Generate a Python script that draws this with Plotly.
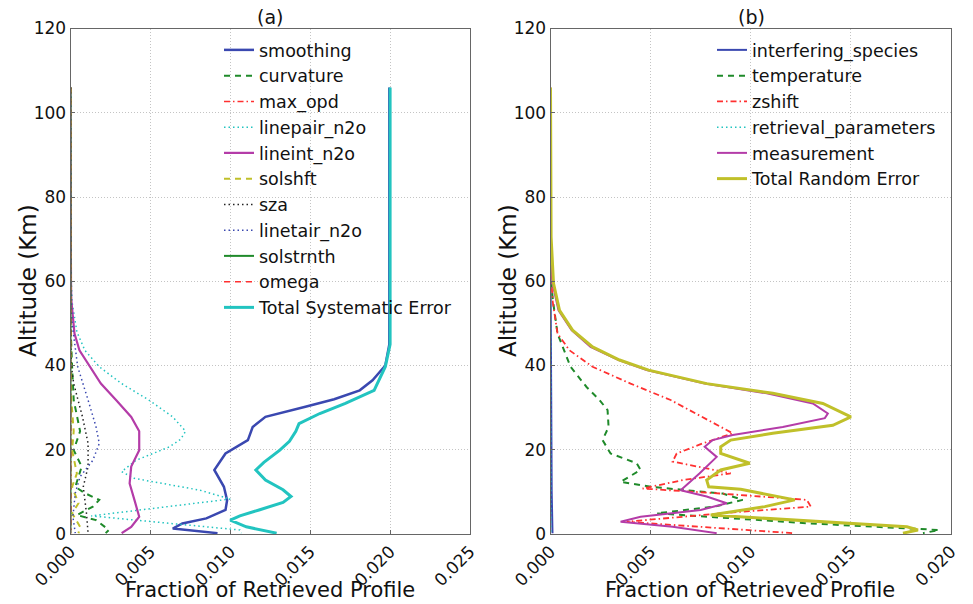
import plotly.graph_objects as go

# ---------------- Panel (a): systematic errors ----------------
smoothing_alt = [106, 60, 45, 40, 36.5, 34.1, 32, 30.2, 27.8, 25.4, 22.3, 19.1, 15.2, 11.2, 8, 5.7, 3.7, 2.5, 1.3, 0.2]
smoothing_val = [0.01995, 0.01995, 0.01995, 0.0197, 0.0189, 0.0181, 0.0165, 0.0147, 0.0122, 0.0114, 0.0111, 0.0097, 0.0090, 0.0096, 0.0098, 0.0097, 0.0085, 0.0070, 0.0064, 0.0092]

curvature_alt = [106, 50, 39.7, 31.8, 24.4, 19.9, 16, 11.2, 9.7, 8.1, 6.5, 4.5, 3.3, 0.95, 0.2]
curvature_val = [0, 0, 0.0001, 0.0002, 0.0006, 0.0002, 0.0007, 0.0003, 0.0009, 0.0018, 0.0014, 0.0004, 0.0016, 0.0024, 0.0022]

max_opd_alt = [106, 30, 10, 0.2]
max_opd_val = [0, 0.00003, 0.00005, 0.00003]

linepair_alt = [106, 65, 55, 48, 43.6, 39.7, 35.7, 31.8, 27.8, 24.4, 22.5, 20.7, 17.5, 14.8, 13.2, 10.4, 8.3, 4.3, 0.95, 0.2]
linepair_val = [0, 0, 0.0001, 0.0004, 0.0009, 0.0018, 0.0032, 0.0049, 0.0064, 0.0072, 0.0069, 0.0062, 0.0041, 0.0032, 0.0040, 0.0081, 0.0100, 0.0013, 0.0106, 0.0107]

lineint_alt = [106, 70, 60, 55.5, 47.6, 43.6, 39.7, 35.7, 31.8, 27.8, 24.4, 19.9, 16, 12, 8.1, 4.1, 1.7, 0.2]
lineint_val = [0, 0, 0.00003, 0.00005, 0.00025, 0.00056, 0.0012, 0.0019, 0.00285, 0.0038, 0.0043, 0.0043, 0.0038, 0.0037, 0.0040, 0.0043, 0.0038, 0.0032]

solshft_alt = [106, 50, 31.8, 24.4, 19.9, 14.4, 11.2, 7.3, 4.9, 1.7, 0.2]
solshft_val = [0, 0, 0.00005, 0.0002, 0.0001, 0.0004, 0.0001, 0.0005, 0.0001, 0.0006, 0.0005]

sza_alt = [106, 50, 40, 35.7, 27.8, 21.5, 16, 11.2, 4.9, 0.2]
sza_val = [0, 0, 0.00005, 0.0002, 0.00075, 0.0011, 0.0011, 0.0008, 0.0010, 0.0011]

linetair_alt = [106, 60, 50, 39.7, 31.8, 25.4, 21.5, 17.5, 13.6, 9.7, 4.1, 0.2]
linetair_val = [0, 0, 0.0001, 0.00045, 0.0011, 0.0016, 0.0018, 0.0014, 0.0006, 0.0003, 0.00015, 0.0003]

solstrnth_alt = [106, 0.2]
solstrnth_val = [0, 0]

omega_alt = [106, 0.2]
omega_val = [0, 0]

total_sys_alt = [106, 45, 39.7, 34.1, 31, 28.6, 26.2, 24.4, 22, 19.9, 17, 15.2, 12.8, 10.5, 8.9, 7.5, 5.7, 4.3, 3.3, 1.7, 0.2]
total_sys_val = [0.0200, 0.0200, 0.0197, 0.0190, 0.0172, 0.0156, 0.0143, 0.0141, 0.0137, 0.0131, 0.0121, 0.0116, 0.0122, 0.0133, 0.0138, 0.0133, 0.0118, 0.0106, 0.0100, 0.0110, 0.0129]

# ---------------- Panel (b): random errors ----------------
interf_alt = [64, 30, 10, 0.2]
interf_val = [0, 0.00003, 0.00006, 0.0001]

temp_alt = [65, 60, 55.5, 47.6, 39.7, 34.9, 31.8, 29.4, 25.4, 22.3, 19.1, 16.8, 15.2, 12.4, 11.2, 9.6, 8.1, 6.5, 4.9, 2.5, 0.95, 0.2]
temp_val = [0, 0.00003, 0.00012, 0.00035, 0.001, 0.0018, 0.00245, 0.00285, 0.0029, 0.0026, 0.0030, 0.0043, 0.0045, 0.0035, 0.0050, 0.0086, 0.0096, 0.0082, 0.0053, 0.0130, 0.0194, 0.0186]

zshift_alt = [65, 55.5, 47.6, 43.6, 39.7, 35.7, 31.8, 27.8, 23.9, 21.5, 19.1, 17.2, 16, 14.4, 12.8, 10.8, 9.6, 8.1, 6.5, 4.9, 2.9, 1.7, 0.2]
zshift_val = [0, 0.0001, 0.00035, 0.00095, 0.0021, 0.0040, 0.0060, 0.0076, 0.0091, 0.0076, 0.0063, 0.0061, 0.0073, 0.0090, 0.0066, 0.0046, 0.0085, 0.0128, 0.0130, 0.0085, 0.0038, 0.0074, 0.0121]

retr_alt = [65, 0.2]
retr_val = [0, 0.00002]

meas_alt = [106, 70, 59.5, 53.1, 48.4, 44.4, 41.3, 38.9, 35.7, 33.4, 31, 28.6, 27.5, 25.4, 23.5, 22.3, 20.7, 18.3, 14.4, 10.4, 8.9, 7.3, 5.7, 4.1, 2.9, 1.7, 0.2]
meas_val = [0, 0.00002, 0.0001, 0.0004, 0.00105, 0.0020, 0.0034, 0.0048, 0.0077, 0.0108, 0.0131, 0.01385, 0.0137, 0.0116, 0.0091, 0.0081, 0.0077, 0.0083, 0.00745, 0.0065, 0.0078, 0.0088, 0.0075, 0.0045, 0.0035, 0.0061, 0.0083]

total_rand_alt = [106, 70.5, 59.5, 53.1, 48.4, 44.4, 41.3, 38.9, 35.7, 33.4, 31, 27.8, 25.8, 23.9, 22.3, 20.7, 19.1, 16.8, 15.2, 12.8, 11.2, 10.6, 8.1, 6.5, 4.5, 3.3, 1.7, 0.95, 0.2]
total_rand_val = [0, 0.00003, 0.00015, 0.00045, 0.0011, 0.0021, 0.00345, 0.0049, 0.0078, 0.0111, 0.0136, 0.0150, 0.0141, 0.0111, 0.0090, 0.0085, 0.0085, 0.00995, 0.0085, 0.0078, 0.0079, 0.0095, 0.0122, 0.0107, 0.0080, 0.0124, 0.0178, 0.01835, 0.0176]

y_ticks = [0, 20, 40, 60, 80, 100, 120]
xa_ticks = [0.000, 0.005, 0.010, 0.015, 0.020, 0.025]
xb_ticks = [0.000, 0.005, 0.010, 0.015, 0.020]

BLUE = "#3a48b0"
GREEN = "#1f8a2a"
RED = "#ff3030"
CYAN = "#22c4c0"
MAG = "#b43ca8"
YEL = "#c0c02a"
BLACK = "#222222"

DASH = "6px,5px"
DOT = "1.5px,3px"
DASHDOT = "6px,3px,1.5px,3px"

fig = go.Figure()

def add(x, y, name, color, width, dash, xa, ya, legend):
    fig.add_trace(go.Scatter(
        x=x, y=y, name=name, mode="lines",
        line=dict(color=color, width=width, dash=dash),
        xaxis=xa, yaxis=ya, legend=legend))

sys_series = [
    (smoothing_val, smoothing_alt, "smoothing", BLUE, 2.5, "solid"),
    (curvature_val, curvature_alt, "curvature", GREEN, 2, DASH),
    (max_opd_val, max_opd_alt, "max_opd", RED, 1.5, DASHDOT),
    (linepair_val, linepair_alt, "linepair_n2o", CYAN, 1.5, DOT),
    (lineint_val, lineint_alt, "lineint_n2o", MAG, 2.2, "solid"),
    (solshft_val, solshft_alt, "solshft", YEL, 2, DASH),
    (sza_val, sza_alt, "sza", BLACK, 1.5, DOT),
    (linetair_val, linetair_alt, "linetair_n2o", BLUE, 1.5, DOT),
    (solstrnth_val, solstrnth_alt, "solstrnth", GREEN, 2, "solid"),
    (omega_val, omega_alt, "omega", RED, 1.5, DASH),
    (total_sys_val, total_sys_alt, "Total Systematic Error", CYAN, 3, "solid"),
]
for x, y, n, c, w, d in sys_series:
    add(x, y, n, c, w, d, "x", "y", "legend")

rand_series = [
    (interf_val, interf_alt, "interfering_species", BLUE, 2, "solid"),
    (temp_val, temp_alt, "temperature", GREEN, 2, DASH),
    (zshift_val, zshift_alt, "zshift", RED, 1.8, DASHDOT),
    (retr_val, retr_alt, "retrieval_parameters", CYAN, 1.5, DOT),
    (meas_val, meas_alt, "measurement", MAG, 2, "solid"),
    (total_rand_val, total_rand_alt, "Total Random Error", YEL, 3, "solid"),
]
for x, y, n, c, w, d in rand_series:
    add(x, y, n, c, w, d, "x2", "y2", "legend2")

W, H = 973, 604
def px_x(p): return p / W
def px_y(p): return 1 - p / H

FONT = "DejaVu Sans"
tickfont = dict(family=FONT, size=17, color="#111")

axis_common = dict(showline=True, mirror=True, linecolor="#666", linewidth=1,
                   showgrid=True, gridcolor="#c4c4c4", griddash="1px,2px", gridwidth=1,
                   zeroline=False, ticks="inside", ticklen=4, tickcolor="#666",
                   tickfont=tickfont, automargin=False)

fig.update_layout(
    width=W, height=H, margin=dict(l=0, r=0, t=0, b=0, autoexpand=False),
    paper_bgcolor="white", plot_bgcolor="white",
    font=dict(family=FONT, color="#111"),
    xaxis=dict(domain=[px_x(70.5), px_x(470)], range=[0, 0.025], tickvals=xa_ticks,
               tickformat=".3f", tickangle=-45, anchor="y", **axis_common),
    yaxis=dict(domain=[px_y(534), px_y(28.5)], range=[0, 120], tickvals=y_ticks,
               anchor="x", **axis_common),
    xaxis2=dict(domain=[px_x(550.5), px_x(951)], range=[0, 0.020], tickvals=xb_ticks,
                tickformat=".3f", tickangle=-45, anchor="y2", **axis_common),
    yaxis2=dict(domain=[px_y(534), px_y(28.5)], range=[0, 120], tickvals=y_ticks,
                anchor="x2", **axis_common),
    legend=dict(x=px_x(219), y=px_y(32), xanchor="left", yanchor="top",
                bgcolor="rgba(0,0,0,0)", font=dict(family=FONT, size=17.5, color="#111"),
                itemwidth=30, tracegroupgap=0),
    legend2=dict(x=px_x(712), y=px_y(32), xanchor="left", yanchor="top",
                 bgcolor="rgba(0,0,0,0)", font=dict(family=FONT, size=17.5, color="#111"),
                 itemwidth=30, tracegroupgap=0),
    showlegend=True,
)

def note(text, x, y, size, angle=0):
    return dict(text=text, x=px_x(x), y=px_y(y), xref="paper", yref="paper",
                xanchor="center", yanchor="middle", textangle=angle,
                showarrow=False, font=dict(size=size, family=FONT, color="#111"))

ann = [
    note("(a)", 270, 17, 19),
    note("(b)", 751, 17, 19),
    note("Altitude (Km)", 28, 281, 23, -90),
    note("Altitude (Km)", 508, 281, 23, -90),
    note("Fraction of Retrieved Profile", 270, 590, 21),
    note("Fraction of Retrieved Profile", 750, 590, 21),
]
fig.update_layout(annotations=ann)

fig.write_html("out.html")
